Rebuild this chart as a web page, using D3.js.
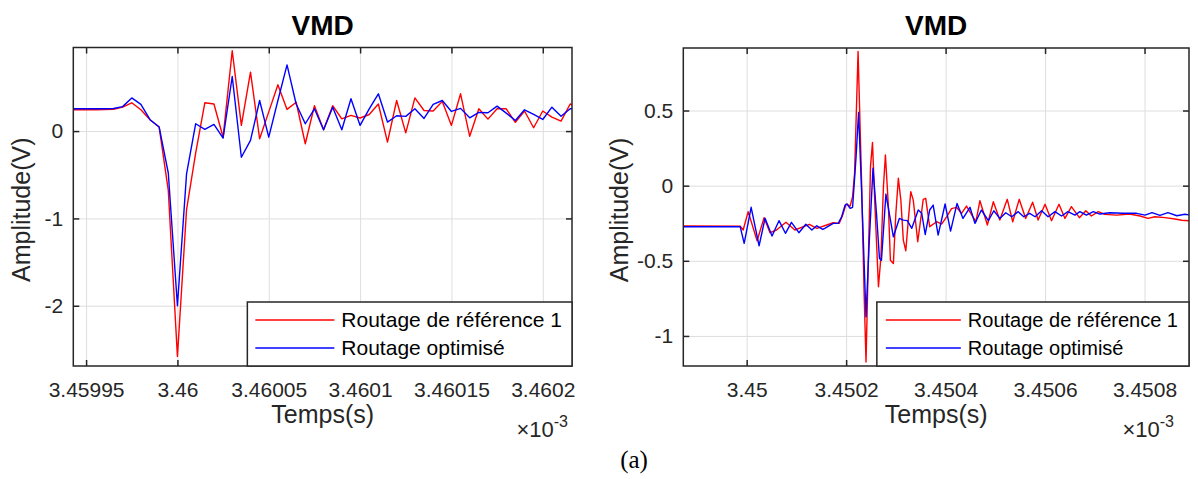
<!DOCTYPE html>
<html>
<head>
<meta charset="utf-8">
<script src="https://cdn.jsdelivr.net/npm/d3@7"></script>
<style>
  body { margin: 0; background: #fff; }
  svg text { font-family: "Liberation Sans", Arial, sans-serif; }
</style>
</head>
<body>
<svg id="chart" width="1198" height="479"></svg>
<script>
// ---- left panel data (time in x10^-3 s, amplitude in V)
const leftTime = [3.45994, 3.459945, 3.45995, 3.459955, 3.45996, 3.459965, 3.45997, 3.459975, 3.45998, 3.459985,
  3.45999, 3.459995, 3.46, 3.460005, 3.46001, 3.460015, 3.46002, 3.460025, 3.46003, 3.460035,
  3.46004, 3.460045, 3.46005, 3.460055, 3.46006, 3.460065, 3.46007, 3.460075, 3.46008, 3.460085,
  3.46009, 3.460095, 3.4601, 3.460105, 3.46011, 3.460115, 3.46012, 3.460125, 3.46013, 3.460135,
  3.46014, 3.460145, 3.46015, 3.460155, 3.46016, 3.460165, 3.46017, 3.460175, 3.46018, 3.460185,
  3.46019, 3.460195, 3.4602, 3.460205, 3.46021, 3.460215, 3.46022];
const leftRef = [0.244, 0.244, 0.244, 0.244, 0.246, 0.248, 0.274, 0.324, 0.244, 0.13,
  0.046, -0.68, -2.58, -0.9, -0.25, 0.324, 0.31, -0.07, 0.92, 0.065,
  0.674, -0.088, 0.22, 0.53, 0.248, 0.33, -0.145, 0.29, 0.015, 0.29,
  0.14, 0.18, 0.15, 0.19, 0.31, -0.126, 0.35, -0.02, 0.38, 0.236,
  0.23, 0.34, 0.065, 0.427, -0.06, 0.255, 0.137, 0.255, 0.255, 0.1,
  0.23, 0.038, 0.23, 0.16, 0.114, 0.31, 0.26];
const leftOpt = [0.255, 0.255, 0.255, 0.255, 0.256, 0.258, 0.28, 0.38, 0.305, 0.13,
  0.046, -0.48, -2.0, -0.49, 0.084, 0.02, 0.076, -0.08, 0.625, -0.3,
  -0.107, 0.35, -0.07, 0.35, 0.758, 0.31, 0.084, 0.255, 0.015, 0.274,
  0.015, 0.37, 0.065, 0.255, 0.427, 0.103, 0.175, 0.168, 0.255, 0.145,
  0.305, 0.35, 0.225, 0.26, 0.152, 0.213, 0.21, 0.286, 0.206, 0.122,
  0.244, 0.19, 0.133, 0.274, 0.17, 0.255, 0.26];
const leftXTicks = [3.45995, 3.46, 3.46005, 3.4601, 3.46015, 3.4602];
const leftXLabels = ["3.45995", "3.46", "3.46005", "3.4601", "3.46015", "3.4602"];
const leftYTicks = [-2, -1, 0];
const leftYLabels = ["-2", "-1", "0"];
const leftXRange = [3.459943, 3.460216];
const leftYRange = [-2.69, 0.957];

// ---- right panel data
const rightRefTime = [3.44985, 3.449987, 3.449993, 3.450003, 3.450021, 3.450035, 3.450047, 3.45006, 3.450079, 3.450097,
  3.450126, 3.450141, 3.450161, 3.450174, 3.450186, 3.450193, 3.4502, 3.450208, 3.450213, 3.450217,
  3.450224, 3.450231, 3.450236, 3.45024, 3.450244, 3.450249, 3.450253, 3.450258, 3.450265, 3.45027,
  3.450275, 3.450279, 3.450285, 3.450289, 3.450295, 3.4503, 3.450305, 3.45031, 3.450315, 3.45032,
  3.450325, 3.45033, 3.450335, 3.450344, 3.450348, 3.450355, 3.45036, 3.450368, 3.450382, 3.450392,
  3.450402, 3.450412, 3.450422, 3.450432, 3.450442, 3.450455, 3.450461, 3.450469, 3.450484, 3.450496,
  3.450509, 3.450524, 3.450535, 3.450548, 3.450561, 3.450575, 3.450586, 3.4506, 3.450613, 3.450628,
  3.45064, 3.450653, 3.450669, 3.450682, 3.450693, 3.450707, 3.45072, 3.450744, 3.45077, 3.450791,
  3.450807, 3.450821, 3.450841, 3.450861, 3.450875, 3.450895];
const rightRef = [-0.268, -0.269, -0.295, -0.173, -0.367, -0.213, -0.313, -0.295, -0.244, -0.295,
  -0.257, -0.284, -0.262, -0.247, -0.251, -0.196, -0.122, -0.136, -0.073, 0.082,
  0.893, 0.038, -0.696, -1.173, -0.584, 0.127, 0.287, -0.14, -0.673, -0.473,
  -0.007, 0.204, -0.14, -0.496, -0.518, -0.184, 0.049, -0.096, -0.362, -0.433,
  -0.229, -0.04, -0.096, -0.373, -0.273, -0.091, -0.084, -0.273, -0.24, -0.256,
  -0.207, -0.153, -0.144, -0.184, -0.136, -0.207, -0.24, -0.1, -0.262, -0.107,
  -0.229, -0.091, -0.24, -0.091, -0.218, -0.11, -0.229, -0.124, -0.233, -0.124,
  -0.218, -0.14, -0.213, -0.167, -0.202, -0.173, -0.191, -0.196, -0.189, -0.202,
  -0.218, -0.207, -0.213, -0.222, -0.23, -0.235];
const rightOptTime = [3.44985, 3.449987, 3.449995, 3.450009, 3.450025, 3.450037, 3.450051, 3.450065, 3.450078, 3.45009,
  3.450105, 3.450119, 3.450131, 3.450141, 3.450153, 3.450157, 3.450174, 3.450184, 3.450191, 3.450198,
  3.450202, 3.450208, 3.450213, 3.45022, 3.450225, 3.450231, 3.45024, 3.450246, 3.450254, 3.450261,
  3.450267, 3.450271, 3.45028, 3.450288, 3.450295, 3.450307, 3.450315, 3.450323, 3.450332, 3.450345,
  3.450352, 3.450359, 3.450368, 3.450375, 3.450385, 3.450399, 3.45041, 3.450423, 3.450435, 3.450449,
  3.450459, 3.450472, 3.450486, 3.450497, 3.450509, 3.450521, 3.450533, 3.450546, 3.450557, 3.450569,
  3.45058, 3.450593, 3.450606, 3.45062, 3.450633, 3.450646, 3.45066, 3.45067, 3.450683, 3.450697,
  3.45071, 3.45073, 3.450757, 3.450784, 3.450801, 3.450815, 3.450831, 3.450847, 3.450865, 3.450881,
  3.450895];
const rightOpt = [-0.273, -0.273, -0.384, -0.144, -0.4, -0.217, -0.335, -0.233, -0.317, -0.244,
  -0.313, -0.257, -0.295, -0.267, -0.291, -0.284, -0.251, -0.251, -0.207, -0.129,
  -0.122, -0.151, -0.144, 0.193, 0.487, -0.029, -0.873, -0.407, 0.116, -0.184,
  -0.484, -0.496, -0.056, -0.207, -0.34, -0.218, -0.229, -0.233, -0.284, -0.162,
  -0.184, -0.325, -0.162, -0.129, -0.329, -0.122, -0.302, -0.118, -0.218, -0.144,
  -0.251, -0.162, -0.233, -0.167, -0.218, -0.18, -0.207, -0.173, -0.207, -0.184,
  -0.207, -0.167, -0.207, -0.173, -0.202, -0.173, -0.196, -0.173, -0.196, -0.173,
  -0.189, -0.18, -0.184, -0.184, -0.196, -0.18, -0.198, -0.18, -0.2, -0.19,
  -0.197];
const rightXTicks = [3.45, 3.4502, 3.4504, 3.4506, 3.4508];
const rightXLabels = ["3.45", "3.4502", "3.4504", "3.4506", "3.4508"];
const rightYTicks = [-1, -0.5, 0, 0.5];
const rightYLabels = ["-1", "-0.5", "0", "0.5"];
const rightXRange = [3.4498726, 3.4508894];
const rightYRange = [-1.2, 0.916];

const seriesNames = ["Routage de référence 1", "Routage optimisé"];
const seriesColors = ["#ff0000", "#0000ff"];

const svg = d3.select("#chart");
const axisColor = "#262626";
const gridColor = "#dedede";
const tickFont = 21;

let drawPanel = (cfg) => {
  const x = d3.scaleLinear().domain(cfg.xRange).range([cfg.left, cfg.right]);
  const y = d3.scaleLinear().domain(cfg.yRange).range([cfg.bottom, cfg.top]);
  const w = cfg.right - cfg.left, h = cfg.bottom - cfg.top;
  const g = svg.append("g");

  // grid
  g.append("g").attr("transform", `translate(0,${cfg.bottom})`)
    .call(d3.axisBottom(x).tickValues(cfg.xTicks).tickSize(-h).tickFormat(""))
    .call(s => s.select(".domain").remove())
    .selectAll("line").attr("stroke", gridColor).attr("stroke-width", 1);
  g.append("g").attr("transform", `translate(${cfg.left},0)`)
    .call(d3.axisLeft(y).tickValues(cfg.yTicks).tickSize(-w).tickFormat(""))
    .call(s => s.select(".domain").remove())
    .selectAll("line").attr("stroke", gridColor).attr("stroke-width", 1);

  // data
  const clipId = "clip" + cfg.id;
  svg.append("clipPath").attr("id", clipId).append("rect")
    .attr("x", cfg.left).attr("y", cfg.top).attr("width", w).attr("height", h);
  const line = d3.line().x(d => x(d[0])).y(d => y(d[1]));
  cfg.series.forEach((s, i) => {
    g.append("path")
      .datum(d3.zip(s.t, s.v))
      .attr("clip-path", `url(#${clipId})`)
      .attr("fill", "none")
      .attr("stroke", seriesColors[i])
      .attr("stroke-width", 1.4)
      .attr("stroke-linejoin", "round")
      .attr("d", line);
  });

  // axes (MATLAB style, ticks inside on all four sides)
  const styleAxis = (s) => {
    s.select(".domain").remove();
    s.selectAll("line").attr("stroke", axisColor).attr("stroke-width", 1.5);
    s.selectAll("text").attr("fill", axisColor).style("font-size", tickFont + "px");
  };
  g.append("g").attr("transform", `translate(0,${cfg.bottom})`)
    .call(d3.axisBottom(x).tickValues(cfg.xTicks).tickSize(-6).tickPadding(16)
      .tickFormat((d, i) => cfg.xLabels[i]))
    .call(styleAxis);
  g.append("g").attr("transform", `translate(0,${cfg.top})`)
    .call(d3.axisTop(x).tickValues(cfg.xTicks).tickSize(-6).tickFormat(""))
    .call(styleAxis);
  g.append("g").attr("transform", `translate(${cfg.left},0)`)
    .call(d3.axisLeft(y).tickValues(cfg.yTicks).tickSize(-6).tickPadding(10)
      .tickFormat((d, i) => cfg.yLabels[i]))
    .call(styleAxis);
  g.append("g").attr("transform", `translate(${cfg.right},0)`)
    .call(d3.axisRight(y).tickValues(cfg.yTicks).tickSize(-6).tickFormat(""))
    .call(styleAxis);

  g.append("rect")
    .attr("x", cfg.left).attr("y", cfg.top).attr("width", w).attr("height", h)
    .attr("fill", "none").attr("stroke", axisColor).attr("stroke-width", 1.5);

  // title and labels
  g.append("text").attr("x", (cfg.left + cfg.right) / 2).attr("y", 35)
    .attr("text-anchor", "middle").style("font-size", "28px").style("font-weight", "bold")
    .attr("fill", "#000").text("VMD");
  g.append("text").attr("x", (cfg.left + cfg.right) / 2).attr("y", 423)
    .attr("text-anchor", "middle").style("font-size", "25px").attr("fill", axisColor)
    .text("Temps(s)");
  g.append("text")
    .attr("transform", `translate(${cfg.ylabX},${(cfg.top + cfg.bottom) / 2 + 3}) rotate(-90)`)
    .attr("text-anchor", "middle").style("font-size", "25px").attr("fill", axisColor)
    .text("Amplitude(V)");

  const ex = g.append("text").attr("x", cfg.expX).attr("y", 437)
    .attr("text-anchor", "end").attr("fill", axisColor).style("font-size", "22px");
  ex.append("tspan").text("\u00d710");
  ex.append("tspan").attr("dy", -10).style("font-size", "16px").text("-3");

  // legend
  const L = cfg.legend;
  const lg = g.append("g");
  const box = lg.append("rect").attr("fill", "#fff").attr("stroke", axisColor).attr("stroke-width", 1.5);
  let maxLen = 0;
  const rows = [cfg.bottom - 46, cfg.bottom - 18];
  const texts = seriesNames.map((name, i) => {
    const t = lg.append("text").attr("y", rows[i] + 7).style("font-size", L.font + "px")
      .attr("fill", "#000").text(name);
    maxLen = Math.max(maxLen, t.node().getComputedTextLength());
    return t;
  });
  const bw = L.pad + L.line + L.gap + maxLen + L.padR;
  const bx = cfg.right - bw;
  box.attr("x", bx).attr("y", cfg.bottom - 64).attr("width", bw).attr("height", 64);
  texts.forEach((t, i) => {
    t.attr("x", bx + L.pad + L.line + L.gap);
    lg.append("line").attr("x1", bx + L.pad).attr("x2", bx + L.pad + L.line)
      .attr("y1", rows[i]).attr("y2", rows[i])
      .attr("stroke", seriesColors[i]).attr("stroke-width", 1.4);
  });
};

drawPanel({
  id: "L", left: 73.3, right: 572, top: 47.5, bottom: 366, ylabX: 30, expX: 568,
  legend: { font: 21, pad: 8, line: 79, gap: 7, padR: 10 },
  xRange: leftXRange, yRange: leftYRange,
  xTicks: leftXTicks, xLabels: leftXLabels, yTicks: leftYTicks, yLabels: leftYLabels,
  series: [{ t: leftTime, v: leftRef }, { t: leftTime, v: leftOpt }]
});

drawPanel({
  id: "R", left: 683.3, right: 1189, top: 48, bottom: 366, ylabX: 628, expX: 1174,
  legend: { font: 20, pad: 9, line: 75, gap: 7, padR: 11 },
  xRange: rightXRange, yRange: rightYRange,
  xTicks: rightXTicks, xLabels: rightXLabels, yTicks: rightYTicks, yLabels: rightYLabels,
  series: [{ t: rightRefTime, v: rightRef }, { t: rightOptTime, v: rightOpt }]
});

svg.append("text").attr("x", 634).attr("y", 468).attr("text-anchor", "middle")
  .style("font-family", "'Liberation Serif', 'Times New Roman', serif").style("font-size", "25px")
  .attr("fill", "#000").text("(a)");
</script>
</body>
</html>
